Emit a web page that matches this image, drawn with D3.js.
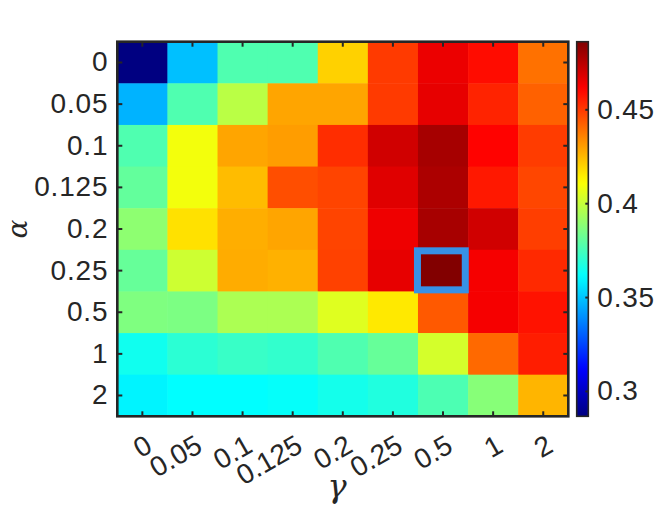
<!DOCTYPE html>
<html><head><meta charset="utf-8">
<script src="https://cdn.jsdelivr.net/npm/d3@7"></script>
<style>body{margin:0;background:#fff} svg{display:block}</style>
</head><body><svg id="chart" width="665" height="508"></svg>
<script>
// ---- data ----
const alphaLabels = ["0","0.05","0.1","0.125","0.2","0.25","0.5","1","2"];
const gammaLabels = ["0","0.05","0.1","0.125","0.2","0.25","0.5","1","2"];
// rows = alpha, columns = gamma
const values = [
  [0.2867,0.3489,0.3767,0.3767,0.4202,0.4498,0.4647,0.4588,0.4389],
  [0.3464,0.3767,0.3977,0.4287,0.4287,0.4498,0.4657,0.4542,0.4420],
  [0.3767,0.4088,0.4287,0.4303,0.4522,0.4703,0.4784,0.4607,0.4494],
  [0.3807,0.4088,0.4243,0.4458,0.4478,0.4672,0.4773,0.4564,0.4474],
  [0.3891,0.4170,0.4271,0.4287,0.4478,0.4641,0.4782,0.4703,0.4490],
  [0.3812,0.4015,0.4275,0.4264,0.4483,0.4657,0.4856,0.4629,0.4530],
  [0.3862,0.3856,0.3949,0.3949,0.4050,0.4155,0.4436,0.4629,0.4576],
  [0.3645,0.3698,0.3722,0.3710,0.3767,0.3812,0.4027,0.4405,0.4553],
  [0.3591,0.3613,0.3613,0.3623,0.3653,0.3675,0.3762,0.3877,0.4256]
];
const colorDomain = [0.2865, 0.486];
const colorTicks = [0.3, 0.35, 0.4, 0.45];
const highlightCell = {alpha: "0.25", gamma: "0.5"};

// ---- drawing ----
const svg = d3.select("#chart");
const L = 117.3, R = 568.3, T = 41.7, B = 416.3;
const ink = "#262626";
const x = d3.scaleBand().domain(gammaLabels).range([L, R]);
const y = d3.scaleBand().domain(alphaLabels).range([T, B]);

function jet(t) {
  t = Math.max(0, Math.min(1, t));
  const c = v => Math.round(255 * Math.max(0, Math.min(1, v)));
  const r = c(1.5 - Math.abs(4 * t - 3));
  const g = c(1.5 - Math.abs(4 * t - 2));
  const b = c(1.5 - Math.abs(4 * t - 1));
  return `rgb(${r},${g},${b})`;
}
const norm = d3.scaleLinear().domain(colorDomain).range([0, 1]).clamp(true);
const color = v => jet(norm(v));

const cells = [];
values.forEach((row, i) => row.forEach((v, j) => cells.push({a: alphaLabels[i], g: gammaLabels[j], v})));

svg.append("g").selectAll("rect").data(cells).join("rect")
  .attr("x", d => x(d.g)).attr("y", d => y(d.a))
  .attr("width", x.bandwidth() + 0.5).attr("height", y.bandwidth() + 0.5)
  .attr("fill", d => color(d.v));

// highlight box
svg.append("rect")
  .attr("x", x(highlightCell.gamma) - 0.5)
  .attr("y", y(highlightCell.alpha) + 1)
  .attr("width", x.bandwidth() - 2.3)
  .attr("height", y.bandwidth() - 2.6)
  .attr("fill", "none").attr("stroke", "#3791E6").attr("stroke-width", 7);

// axes
const fontFam = "'Liberation Sans', Arial, Helvetica, sans-serif";
const ax = svg.append("g");

function styleAxis(g) {
  g.select(".domain").remove();
  g.selectAll(".tick line").attr("stroke", ink).attr("stroke-width", 2);
}
// left
const leftAxis = ax.append("g").attr("transform", `translate(${L},0)`)
  .call(d3.axisLeft(y).tickSize(-5).tickPadding(9))
  .call(styleAxis);
leftAxis.selectAll("text").attr("font-size", 28).attr("letter-spacing", 0.8).attr("fill", ink).attr("font-family", fontFam);
// right ticks
ax.append("g").attr("transform", `translate(${R},0)`)
  .call(d3.axisRight(y).tickSize(-5).tickFormat(""))
  .call(styleAxis);
// top ticks
ax.append("g").attr("transform", `translate(0,${T})`)
  .call(d3.axisTop(x).tickSize(-5).tickFormat(""))
  .call(styleAxis);
// bottom
const bottomAxis = ax.append("g").attr("transform", `translate(0,${B})`)
  .call(d3.axisBottom(x).tickSize(-5))
  .call(styleAxis);
bottomAxis.selectAll("text")
    .attr("font-size", 28).attr("fill", ink).attr("font-family", fontFam)
    .attr("text-anchor", "end").attr("dy", null).attr("y", null)
    .attr("transform", "translate(11.6,34.4) rotate(-30)");

// frame
svg.append("rect").attr("x", L).attr("y", T).attr("width", R - L).attr("height", B - T)
  .attr("fill", "none").attr("stroke", ink).attr("stroke-width", 2.6);

// axis titles
svg.append("text").attr("transform", `translate(26.5,229) rotate(-90)`)
  .attr("text-anchor", "middle").attr("font-size", 28).attr("font-style", "italic")
  .attr("font-family", "'DejaVu Serif', serif").attr("fill", ink).text("α");
svg.append("text").attr("x", 337).attr("y", 497)
  .attr("text-anchor", "middle").attr("font-size", 32).attr("font-style", "italic")
  .attr("font-family", "'DejaVu Serif', serif").attr("fill", ink).text("γ");

// colorbar
const CL = 576.7, CR = 588.3;
const cy = d3.scaleLinear().domain(colorDomain).range([B, T]);
const defs = svg.append("defs");
const grad = defs.append("linearGradient").attr("id", "jetgrad")
  .attr("x1", 0).attr("y1", 1).attr("x2", 0).attr("y2", 0);
grad.selectAll("stop").data(d3.range(0, 1.0001, 0.02)).join("stop")
  .attr("offset", d => d).attr("stop-color", d => jet(d));
svg.append("rect").attr("x", CL).attr("y", T).attr("width", CR - CL).attr("height", B - T)
  .attr("fill", "url(#jetgrad)");
const cbAxis = svg.append("g").attr("transform", `translate(${CR},0)`)
  .call(d3.axisRight(cy).tickValues(colorTicks).tickSize(-3).tickPadding(9).tickFormat(d3.format("")))
  .call(styleAxis);
cbAxis.selectAll("text").attr("font-size", 28).attr("letter-spacing", 0.8).attr("fill", ink).attr("font-family", fontFam);
svg.append("rect").attr("x", CL).attr("y", T).attr("width", CR - CL).attr("height", B - T)
  .attr("fill", "none").attr("stroke", ink).attr("stroke-width", 1.6);
</script></body></html>
